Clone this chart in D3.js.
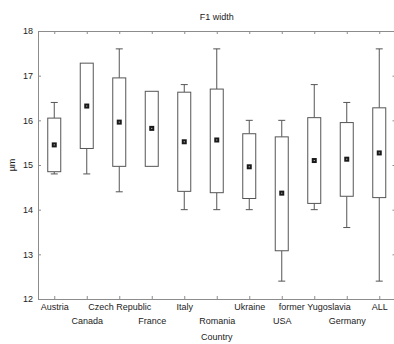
<!DOCTYPE html>
<html>
<head>
<meta charset="utf-8">
<script src="https://cdn.jsdelivr.net/npm/d3@7"></script>
<style>
  body { margin: 0; background: #fff; }
  text { font-family: "Liberation Sans", Arial, sans-serif; fill: #222; }
</style>
</head>
<body>
<div id="chart"></div>
<script>
var svgWidth = 394;
var svgHeight = 344;

// data
var countries = ["Austria", "Canada", "Czech Republic", "France", "Italy", "Romania",
                 "Ukraine", "USA", "former Yugoslavia", "Germany", "ALL"];
var whiskerHigh = [16.4, 17.28, 17.6, 16.65, 16.8, 17.6, 16.0, 16.0, 16.8, 16.4, 17.6];
var boxHigh     = [16.05, 17.28, 16.95, 16.65, 16.63, 16.7, 15.7, 15.63, 16.06, 15.95, 16.28];
var means       = [15.45, 16.32, 15.96, 15.82, 15.52, 15.56, 14.96, 14.37, 15.1, 15.13, 15.27];
var boxLow      = [14.85, 15.37, 14.97, 14.97, 14.41, 14.38, 14.25, 13.08, 14.14, 14.3, 14.27];
var whiskerLow  = [14.8, 14.8, 14.4, 14.97, 14.0, 14.0, 14.0, 12.4, 14.0, 13.6, 12.4];
var yTicks = [12, 13, 14, 15, 16, 17, 18];

var chartMargin = { top: 31, right: -1.5, bottom: 45, left: 38 };
var width = svgWidth - chartMargin.left - chartMargin.right;
var height = svgHeight - chartMargin.top - chartMargin.bottom;

var svg = d3.select("#chart")
    .append("svg")
    .attr("width", svgWidth)
    .attr("height", svgHeight);

var chartGroup = svg.append("g")
    .attr("transform", `translate(${chartMargin.left}, ${chartMargin.top})`);

var xScale = d3.scalePoint()
    .domain(countries)
    .range([0, width])
    .padding(0.5);

var yScale = d3.scaleLinear()
    .domain([12, 18])
    .range([height, 0]);

var frameColor = "#8c8c8c";

// frame lines and ticks
var leftAxis = d3.axisLeft(yScale).tickValues(yTicks).tickFormat(d3.format("d"))
    .tickSize(-3).tickSizeOuter(0).tickPadding(5);
var rightAxis = d3.axisRight(yScale).tickValues(yTicks).tickFormat("")
    .tickSize(-3).tickSizeOuter(0);
var bottomAxis = d3.axisBottom(xScale).tickSize(-3).tickSizeOuter(0).tickPadding(5);
var topAxis = d3.axisTop(xScale).tickSize(-3).tickSizeOuter(0).tickFormat("");

var gLeft = chartGroup.append("g").call(leftAxis);
var gRight = chartGroup.append("g").attr("transform", `translate(${width},0)`).call(rightAxis);
var gBottom = chartGroup.append("g").attr("transform", `translate(0,${height})`).call(bottomAxis);
var gTop = chartGroup.append("g").call(topAxis);

[gLeft, gRight, gBottom, gTop].forEach(function(g) {
    g.select(".domain").attr("stroke", frameColor);
    g.selectAll(".tick line").attr("stroke", frameColor);
    g.selectAll("text").attr("font-size", 9).style("fill", "#222");
});

// stagger the country labels on two rows
gBottom.selectAll(".tick text")
    .attr("dy", function(d, i) { return i % 2 ? "2.2em" : "0.71em"; });

var boxW = 13;
var capW = 7;

var boxes = chartGroup.selectAll(".box")
    .data(countries)
    .enter()
    .append("g")
    .attr("class", "box")
    .attr("transform", d => `translate(${xScale(d)},0)`);

// whiskers
boxes.append("line")
    .attr("x1", 0).attr("x2", 0)
    .attr("y1", (d, i) => yScale(whiskerHigh[i]))
    .attr("y2", (d, i) => yScale(boxHigh[i]))
    .attr("stroke", "#555");
boxes.append("line")
    .attr("x1", 0).attr("x2", 0)
    .attr("y1", (d, i) => yScale(boxLow[i]))
    .attr("y2", (d, i) => yScale(whiskerLow[i]))
    .attr("stroke", "#555");
boxes.filter((d, i) => whiskerHigh[i] > boxHigh[i]).append("line")
    .attr("x1", -capW / 2).attr("x2", capW / 2)
    .attr("y1", (d) => yScale(whiskerHigh[countries.indexOf(d)]))
    .attr("y2", (d) => yScale(whiskerHigh[countries.indexOf(d)]))
    .attr("stroke", "#555");
boxes.filter((d, i) => whiskerLow[i] < boxLow[i]).append("line")
    .attr("x1", -capW / 2).attr("x2", capW / 2)
    .attr("y1", (d) => yScale(whiskerLow[countries.indexOf(d)]))
    .attr("y2", (d) => yScale(whiskerLow[countries.indexOf(d)]))
    .attr("stroke", "#555");

// boxes
boxes.append("rect")
    .attr("x", -boxW / 2)
    .attr("y", (d, i) => yScale(boxHigh[i]))
    .attr("width", boxW)
    .attr("height", (d, i) => yScale(boxLow[i]) - yScale(boxHigh[i]))
    .attr("fill", "#fff")
    .attr("stroke", "#555");

// mean markers
boxes.append("rect")
    .attr("x", -2.5)
    .attr("y", (d, i) => yScale(means[i]) - 2.5)
    .attr("width", 5)
    .attr("height", 5)
    .attr("fill", "#1a1a1a");
boxes.append("rect")
    .attr("x", -0.5)
    .attr("y", (d, i) => yScale(means[i]) - 0.5)
    .attr("width", 1)
    .attr("height", 1)
    .attr("fill", "#ddd");

// title and axis titles
svg.append("text")
    .attr("x", chartMargin.left + width / 2)
    .attr("y", 20)
    .attr("text-anchor", "middle")
    .attr("font-size", 9)
    .text("F1 width");

svg.append("text")
    .attr("x", chartMargin.left + width / 2)
    .attr("y", 340)
    .attr("text-anchor", "middle")
    .attr("font-size", 9)
    .text("Country");

svg.append("text")
    .attr("transform", "rotate(-90)")
    .attr("x", -(chartMargin.top + height / 2))
    .attr("y", 15)
    .attr("text-anchor", "middle")
    .attr("font-size", 9)
    .text("µm");
</script>
</body>
</html>
